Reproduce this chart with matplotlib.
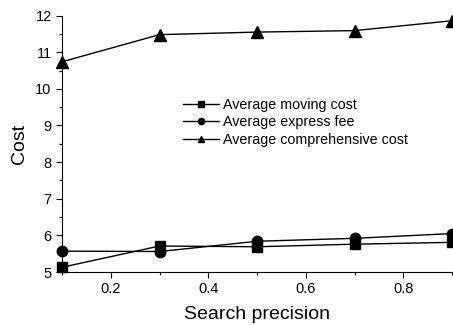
import matplotlib.pyplot as plt
from matplotlib.ticker import MultipleLocator

plt.rcParams['font.family'] = ['Liberation Sans', 'DejaVu Sans']

precision = [0.1, 0.3, 0.5, 0.7, 0.9]
moving_cost = [5.13, 5.71, 5.69, 5.76, 5.81]
express_fee = [5.57, 5.56, 5.84, 5.92, 6.05]
comprehensive_cost = [10.74, 11.48, 11.55, 11.59, 11.86]

fig = plt.figure(figsize=(4.53, 3.25), dpi=100)
ax = fig.add_axes([0.137, 0.163, 0.861, 0.789])

ax.plot(precision, moving_cost, 'k-s', lw=1, ms=7, clip_on=False, label='Average moving cost')
ax.plot(precision, express_fee, 'k-o', lw=1, ms=7.5, clip_on=False, label='Average express fee')
ax.plot(precision, comprehensive_cost, 'k-^', lw=1, ms=8, clip_on=False, label='Average comprehensive cost')

ax.set_xlim(0.1, 0.9)
ax.set_ylim(5, 12)
ax.xaxis.set_major_locator(MultipleLocator(0.2))
ax.xaxis.set_minor_locator(MultipleLocator(0.1))
ax.yaxis.set_major_locator(MultipleLocator(1))
ax.yaxis.set_minor_locator(MultipleLocator(0.5))
ax.set_xticks([0.2, 0.4, 0.6, 0.8])
ax.tick_params(which='major', direction='out', length=4, width=0.8, labelsize=10.5)
ax.tick_params(which='minor', direction='out', length=2.5, width=0.8)
ax.spines['top'].set_visible(False)
ax.spines['right'].set_visible(False)

ax.set_xlabel('Search precision', fontsize=14, labelpad=7)
ax.set_ylabel('Cost', fontsize=14, labelpad=5)

ax.legend(loc='upper left', bbox_to_anchor=(0.295, 0.70), frameon=False, fontsize=10.3,
          handlelength=2.5, handletextpad=0.3, labelspacing=0.22, markerscale=0.6,
          borderaxespad=0)

fig.savefig('out.png', dpi=100)
